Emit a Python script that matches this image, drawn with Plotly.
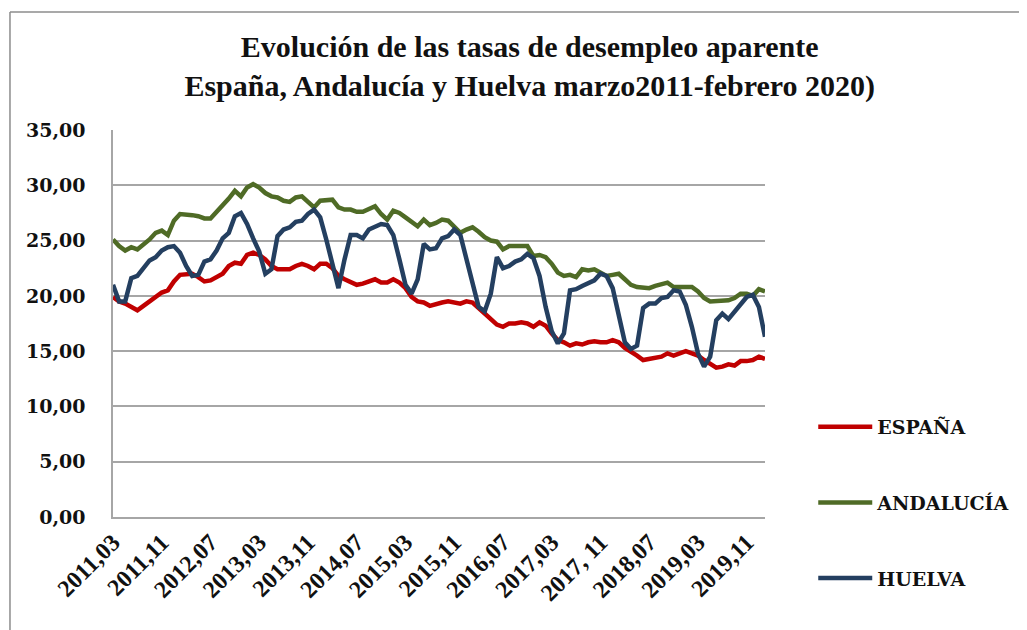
import plotly.graph_objects as go

# Monthly categories: 2011-03 .. 2020-02
years_months = [(2011 + (2 + k) // 12, (2 + k) % 12 + 1) for k in range(108)]
categories = [f"{y},{m:02d}" for y, m in years_months]

tick_positions = [0, 8, 16, 24, 32, 40, 48, 56, 64, 72, 80, 88, 96, 104]
tick_labels = ["2011,03", "2011,11", "2012,07", "2013,03", "2013,11", "2014,07",
               "2015,03", "2015,11", "2016,07", "2017,03", "2017, 11", "2018,07",
               "2019,03", "2019,11"]

espana = [19.9, 19.5, 19.3, 19.0, 18.7, 19.1, 19.5, 20.0, 20.3, 20.5,
          21.3, 21.9, 22.0, 22.0, 21.7, 21.3, 21.4, 21.7, 22.0, 22.7,
          23.0, 22.9, 23.7, 23.9, 23.7, 23.3, 22.7, 22.4, 22.4, 22.4,
          22.7, 22.9, 22.7, 22.4, 22.9, 22.9, 22.5, 21.8, 21.5, 21.2,
          21.0, 21.1, 21.3, 21.5, 21.2, 21.2, 21.5, 21.2, 20.7, 19.9,
          19.5, 19.4, 19.1, 19.3, 19.4, 19.5, 19.4, 19.3, 19.5, 19.4,
          18.9, 18.4, 17.9, 17.4, 17.2, 17.5, 17.5, 17.6, 17.5, 17.2,
          17.6, 17.3, 16.6, 16.0, 15.8, 15.5, 15.7, 15.6, 15.8, 15.9,
          15.8, 15.8, 16.0, 15.8, 15.3, 15.0, 14.6, 14.2, 14.3, 14.5,
          14.5, 14.8, 14.6, 14.8, 15.0, 14.8, 14.6, 14.2, 13.8, 13.5,
          13.6, 13.8, 13.7, 14.1, 14.1, 14.2, 14.5, 14.3]

andalucia = [25.1, 24.5, 24.1, 24.4, 24.2, 24.6, 25.1, 25.7, 25.9, 25.5,
             26.8, 27.4, 27.4, 27.3, 27.2, 27.0, 27.0, 27.6, 28.1, 28.8,
             29.5, 29.0, 29.8, 30.1, 29.8, 29.3, 29.0, 28.9, 28.6, 28.5,
             28.9, 29.0, 28.5, 28.0, 28.6, 28.7, 28.7, 28.0, 27.8, 27.8,
             27.6, 27.6, 27.9, 28.1, 27.4, 26.9, 27.7, 27.5, 27.1, 26.7,
             26.3, 26.9, 26.4, 26.6, 26.9, 26.8, 26.3, 25.7, 26.0, 26.2,
             25.8, 25.3, 25.0, 24.9, 24.2, 24.5, 24.5, 24.5, 24.5, 23.6,
             23.7, 23.5, 22.9, 22.1, 21.8, 21.9, 21.7, 22.4, 22.3, 22.4,
             22.1, 21.8, 21.9, 22.0, 21.5, 21.0, 20.8, 20.7, 20.7, 20.9,
             21.0, 21.2, 20.8, 20.8, 20.9, 20.8, 20.4, 19.8, 19.5, 19.5,
             19.5, 19.6, 19.8, 20.2, 20.2, 20.0, 20.6, 20.4]

huelva = [21.0, 19.5, 19.5, 21.6, 21.8, 22.5, 23.2, 23.5, 24.1, 24.4,
          24.5, 23.9, 22.7, 21.8, 21.9, 23.1, 23.3, 24.1, 25.2, 25.7,
          27.2, 27.5, 26.5, 25.2, 24.0, 22.0, 22.4, 25.4, 26.0, 26.2,
          26.7, 26.8, 27.4, 27.8, 27.1, 25.1, 22.8, 20.7, 23.3, 25.5,
          25.5, 25.2, 26.0, 26.2, 26.5, 26.4, 25.5, 23.3, 21.0, 20.2,
          21.5, 24.7, 24.2, 24.3, 25.2, 25.4, 26.0, 25.5, 23.3, 21.2,
          19.0, 18.6, 20.2, 23.5, 22.5, 22.7, 23.1, 23.3, 23.8, 23.4,
          21.8, 19.0, 16.8, 15.7, 16.6, 20.5, 20.6, 20.9, 21.2, 21.4,
          22.0, 21.8, 20.7, 18.1, 15.8, 15.2, 15.5, 18.9, 19.3, 19.3,
          19.8, 19.9, 20.5, 20.4, 19.2, 17.2, 14.8, 13.6, 14.5, 17.8,
          18.4, 17.9, 18.6, 19.2, 19.9, 20.1, 19.0, 16.3]

series_names = ["ESPAÑA", "ANDALUCÍA", "HUELVA"]
series_values = [espana, andalucia, huelva]
series_colors = ["#C00000", "#4F6B26", "#243F60"]

y_ticks = [0, 5, 10, 15, 20, 25, 30, 35]
y_tick_labels = ["0,00", "5,00", "10,00", "15,00", "20,00", "25,00", "30,00", "35,00"]

x_idx = list(range(len(categories)))

fig = go.Figure()
for name, vals, col in zip(series_names, series_values, series_colors):
    fig.add_trace(go.Scatter(
        x=x_idx, y=vals, mode="lines", name=name, legendgroup=name,
        line=dict(color=col, width=4.5),
        customdata=categories,
        hovertemplate="%{customdata}: %{y:.2f}<extra>" + name + "</extra>",
    ))

serif = "Liberation Serif"
serif_wide = "DejaVu Serif"

fig.update_layout(
    width=1027, height=630,
    margin=dict(l=105, r=270, t=122, b=121),
    paper_bgcolor="white", plot_bgcolor="white",
    title=dict(
        text="Evolución de las tasas de desempleo aparente<br>España, Andalucía y Huelva marzo2011-febrero 2020)",
        x=0.508, xanchor="center", y=0.922, yanchor="top",
        font=dict(family=serif, size=30, color="#111111", weight="bold"),
    ),
    showlegend=True,
    legend=dict(
        x=1.074, xanchor="left", y=0.282, yanchor="top",
        font=dict(family=serif_wide, size=19, color="#111111", weight="bold"),
        tracegroupgap=48, itemwidth=54,
        bgcolor="rgba(0,0,0,0)",
    ),
    xaxis=dict(
        range=[0, 107], tickmode="array", tickvals=tick_positions, ticktext=tick_labels,
        tickangle=-45, showgrid=False, zeroline=False,
        showline=True, linecolor="#A6A6A6", linewidth=1.5,
        ticks="", tickfont=dict(family=serif, size=24, color="#111111", weight="bold"),
    ),
    yaxis=dict(
        range=[0, 35], tickmode="array", tickvals=y_ticks, ticktext=y_tick_labels,
        showgrid=True, gridcolor="#A6A6A6", gridwidth=1.5, zeroline=False,
        showline=True, linecolor="#A6A6A6", linewidth=1.5,
        ticks="", ticklabelstandoff=22,
        tickfont=dict(family=serif_wide, size=19, color="#111111", weight="bold"),
    ),
    shapes=[
        dict(type="line", xref="paper", yref="paper", x0=-0.158, x1=1.45, y0=1.305, y1=1.305,
             line=dict(color="#8C8C8C", width=1.5)),
        dict(type="line", xref="paper", yref="paper", x0=-0.158, x1=-0.158, y0=1.305, y1=-0.35,
             line=dict(color="#8C8C8C", width=1.5)),
    ],
)

fig.write_html("out.html")
